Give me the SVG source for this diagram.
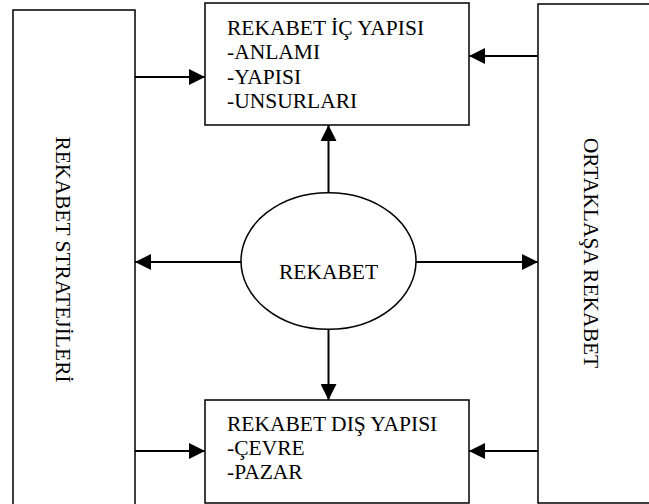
<svg xmlns="http://www.w3.org/2000/svg" width="649" height="504" viewBox="0 0 649 504">
  <style>
    .box { fill: #ffffff; stroke: #000000; stroke-width: 1.5; }
    .lbl { font-family: "Liberation Serif", "Times New Roman", serif; font-size: 21.5px; fill: #000000; }
    .mid { text-anchor: middle; }
    .conn { stroke: #000000; stroke-width: 2; fill: none; marker-end: url(#head); }
  </style>
  <defs>
    <marker id="head" markerUnits="userSpaceOnUse" markerWidth="16" markerHeight="16" viewBox="0 0 15 15" refX="15" refY="7.5" orient="auto">
      <path d="M0,0 L15,7.5 L0,15 Z" fill="#000000"/>
    </marker>
  </defs>

  <!-- side panels -->
  <g id="stratejiler">
    <rect class="box" x="13" y="10" width="122" height="510"/>
    <text class="lbl mid" transform="translate(56,259.5) rotate(90)">REKABET STRATEJİLERİ</text>
  </g>
  <g id="ortaklasa">
    <rect class="box" x="538" y="4" width="130" height="499"/>
    <text class="lbl mid" transform="translate(583.5,253) rotate(90)">ORTAKLAŞA REKABET</text>
  </g>

  <!-- inner structure -->
  <g id="ic-yapi">
    <rect class="box" x="205" y="3" width="264" height="122"/>
    <text class="lbl" x="227" y="35">REKABET İÇ YAPISI</text>
    <text class="lbl" x="227" y="59.3">-ANLAMI</text>
    <text class="lbl" x="227" y="83.6">-YAPISI</text>
    <text class="lbl" x="227" y="108">-UNSURLARI</text>
  </g>

  <!-- outer structure -->
  <g id="dis-yapi">
    <rect class="box" x="205" y="400" width="264" height="103"/>
    <text class="lbl" x="227" y="430.7">REKABET DIŞ YAPISI</text>
    <text class="lbl" x="227" y="455">-ÇEVRE</text>
    <text class="lbl" x="227" y="479.3">-PAZAR</text>
  </g>

  <!-- centre -->
  <g id="rekabet">
    <ellipse class="box" cx="328.5" cy="261" rx="87.5" ry="68.3"/>
    <text class="lbl mid" x="328.5" y="279">REKABET</text>
  </g>

  <g id="connectors">
    <line class="conn" x1="135" y1="77" x2="205" y2="77"/>
    <line class="conn" x1="538" y1="56" x2="469" y2="56"/>
    <line class="conn" x1="135" y1="451" x2="205" y2="451"/>
    <line class="conn" x1="538" y1="451" x2="469" y2="451"/>
    <line class="conn" x1="328.5" y1="192.7" x2="328.5" y2="125"/>
    <line class="conn" x1="328.5" y1="329.3" x2="328.5" y2="400"/>
    <line class="conn" x1="241" y1="262" x2="135" y2="262"/>
    <line class="conn" x1="416" y1="262" x2="538" y2="262"/>
  </g>
</svg>
